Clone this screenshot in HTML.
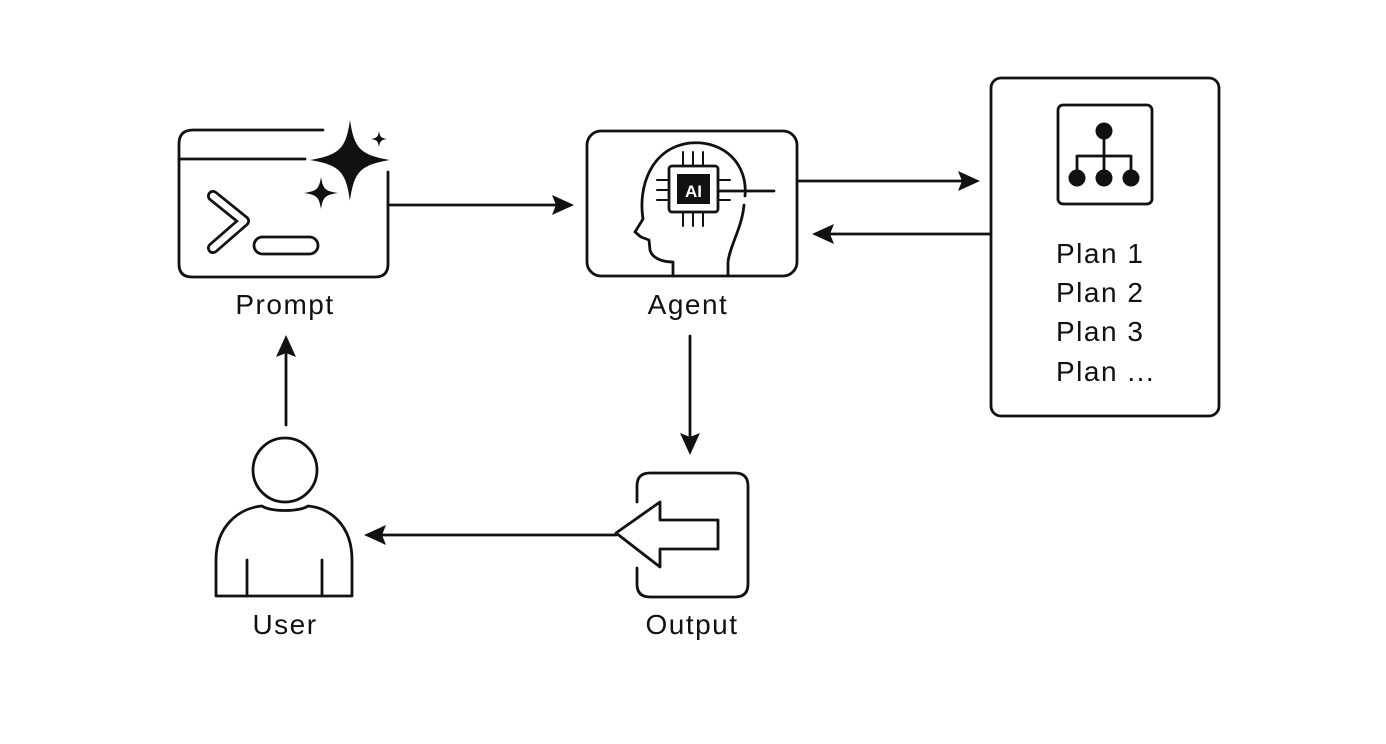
<!DOCTYPE html>
<html><head><meta charset="utf-8"><style>
html,body{margin:0;padding:0;background:#fff;}
svg{display:block;}
text{font-family:"Liberation Sans",sans-serif;font-size:28px;letter-spacing:1.5px;fill:#111;}
</style></head><body>
<svg width="1386" height="744" viewBox="0 0 1386 744" xmlns="http://www.w3.org/2000/svg">
<g fill="none" stroke="#111" stroke-width="2.8" stroke-linecap="round" stroke-linejoin="round">
<!-- Prompt box -->
<path d="M388,172 V264 Q388,277 375,277 H192 Q179,277 179,264 V144 Q179,130 193,130 H323"/>
<path d="M179,159 H305"/>
<path d="M213,196 L244,221 L213,248" stroke-width="12"/>
<path d="M213,196 L244,221 L213,248" stroke="#fff" stroke-width="6.5"/>
<rect x="254" y="237" width="64" height="17" rx="8.5"/>
<!-- Agent box -->
<rect x="587" y="131" width="210" height="145" rx="14"/>
<path d="M673,276 V262 C662,262 652,258 650,250 L649,240 L641,237 L635,232 L643,219 C638,188 650,148 690,143 C725,140 748,165 745,196 M744,205 C742,228 730,245 728,262 V276"/>
<rect x="669" y="166" width="49" height="46" rx="3"/>
<path d="M718,191 H774"/>
<path d="M683,166 V152 M693,166 V152 M703,166 V152 M683,212 V226 M693,212 V226 M703,212 V226 M669,180 H657 M669,190 H657 M669,200 H657 M718,180 H730 M718,200 H730" stroke-width="2"/>
<!-- Plans box -->
<rect x="991" y="78" width="228" height="338" rx="10"/>
<rect x="1058" y="105" width="94" height="99" rx="5"/>
<path d="M1104,131 V177 M1077,177 V156 H1131 V177"/>
<!-- Output box -->
<path d="M637,502 V486 Q637,473 650,473 H735 Q748,473 748,486 V584 Q748,597 735,597 H650 Q637,597 637,584 V568"/>
<path d="M616,533 L660,502 V520 H718 V549 H660 V567 Z"/>
<!-- User -->
<circle cx="285" cy="470" r="32"/>
<path d="M216,596 V560 C216,525 240,508 262,506 C270,512 300,512 308,506 C330,508 352,525 352,560 V596 Z"/>
<path d="M247,560 V596 M322,560 V596"/>
<!-- Connectors -->
<path d="M390,205 H560"/>
<path d="M798,181 H966"/>
<path d="M990,234 H826"/>
<path d="M690,336 V440"/>
<path d="M616,535 H380"/>
<path d="M286,425 V350"/>
</g>
<g fill="#111">
<rect x="677" y="174" width="33" height="30"/>
<text x="693.5" y="197" text-anchor="middle" style="font-size:17px;letter-spacing:0;fill:#fff;font-weight:bold">AI</text>
<path d="M350,120 C354,148 360,155 390,160 C360,165 354,172 350,201 C346,172 340,165 310,160 C340,155 346,148 350,120 Z"/>
<path d="M321,177 C323,189 325,191 338,193 C325,195 323,197 321,209 C319,197 317,195 304,193 C317,191 319,189 321,177 Z"/>
<path d="M379,131 C380,137 381,138 387,139 C381,140 380,141 379,147 C378,141 377,140 371,139 C377,138 378,137 379,131 Z"/>
<circle cx="1104" cy="131" r="8.5"/>
<circle cx="1077" cy="178" r="8.5"/>
<circle cx="1104" cy="178" r="8.5"/>
<circle cx="1131" cy="178" r="8.5"/>
<path d="M574,205 L552,195 L556,205 L552,215 Z"/>
<path d="M980,181 L958,171 L962,181 L958,191 Z"/>
<path d="M812,234 L834,224 L830,234 L834,244 Z"/>
<path d="M690,455 L680,433 L690,437 L700,433 Z"/>
<path d="M364,535 L386,525 L382,535 L386,545 Z"/>
<path d="M286,335 L276,357 L286,353 L296,357 Z"/>
<text x="285" y="314" text-anchor="middle">Prompt</text>
<text x="688" y="314" text-anchor="middle">Agent</text>
<text x="285" y="634" text-anchor="middle">User</text>
<text x="692" y="634" text-anchor="middle">Output</text>
<text x="1056" y="263">Plan 1</text>
<text x="1056" y="302">Plan 2</text>
<text x="1056" y="341">Plan 3</text>
<text x="1056" y="381">Plan ...</text>
</g>
</svg>
</body></html>
